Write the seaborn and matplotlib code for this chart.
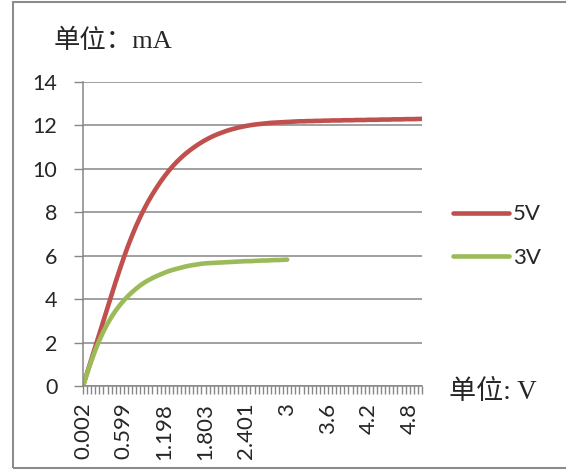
import numpy as np
import pandas as pd
import matplotlib
matplotlib.use('Agg')
import matplotlib.pyplot as plt
from matplotlib.patches import Rectangle
import seaborn as sns

# voltage categories (V), one per measurement step
volts = [
    '0.002', '0.062', '0.121', '0.181', '0.241', '0.301', '0.36', '0.42', '0.48', '0.539',
    '0.599', '0.659', '0.719', '0.779', '0.839', '0.899', '0.958', '1.018', '1.078', '1.138',
    '1.198', '1.258', '1.319', '1.379', '1.44', '1.5', '1.561', '1.621', '1.682', '1.742',
    '1.803', '1.863', '1.923', '1.983', '2.043', '2.102', '2.162', '2.222', '2.282', '2.341',
    '2.401', '2.461', '2.521', '2.58', '2.64', '2.7', '2.76', '2.82', '2.88', '2.94',
    '3', '3.06', '3.12', '3.18', '3.24', '3.3', '3.36', '3.42', '3.48', '3.54',
    '3.6', '3.66', '3.72', '3.78', '3.84', '3.9', '3.96', '4.02', '4.08', '4.14',
    '4.2', '4.26', '4.32', '4.38', '4.44', '4.5', '4.56', '4.62', '4.68', '4.74',
    '4.8', '4.86', '4.92', '4.98',
]

# current (mA) for 5V supply
ma_5v = [
    0.0, 0.6, 1.2, 1.8, 2.4, 3.0, 3.6, 4.2, 4.8, 5.37,
    5.92, 6.44, 6.92, 7.37, 7.78, 8.16, 8.51, 8.83, 9.13, 9.41,
    9.67, 9.91, 10.13, 10.33, 10.51, 10.68, 10.83, 10.97, 11.1, 11.22,
    11.33, 11.43, 11.52, 11.6, 11.67, 11.74, 11.8, 11.85, 11.9, 11.94,
    11.98, 12.01, 12.04, 12.06, 12.08, 12.1, 12.12, 12.13, 12.14, 12.15,
    12.16, 12.17, 12.18, 12.19, 12.19, 12.2, 12.2, 12.21, 12.21, 12.22,
    12.22, 12.23, 12.23, 12.23, 12.24, 12.24, 12.24, 12.25, 12.25, 12.25,
    12.26, 12.26, 12.26, 12.27, 12.27, 12.27, 12.28, 12.28, 12.28, 12.29,
    12.29, 12.29, 12.3, 12.3,
]

# current (mA) for 3V supply, measured up to 3V
ma_3v = [
    0.0, 0.58, 1.13, 1.64, 2.1, 2.51, 2.87, 3.19, 3.47, 3.72,
    3.94, 4.14, 4.32, 4.48, 4.63, 4.76, 4.87, 4.97, 5.06, 5.14,
    5.22, 5.29, 5.35, 5.4, 5.45, 5.5, 5.54, 5.57, 5.6, 5.63,
    5.65, 5.66, 5.67, 5.68, 5.69, 5.7, 5.71, 5.72, 5.73, 5.74,
    5.75, 5.75, 5.76, 5.77, 5.78, 5.78, 5.79, 5.8, 5.8, 5.81,
    5.82,
]

y_ticks = [0, 2, 4, 6, 8, 10, 12, 14]

red = '#C0504D'
green = '#9BBB59'
gray = '#868686'

df = pd.concat([
    pd.DataFrame({'V': volts, 'mA': ma_5v, 'series': '5V'}),
    pd.DataFrame({'V': volts[:len(ma_3v)], 'mA': ma_3v, 'series': '3V'}),
], ignore_index=True)

sns.set_theme(style='white')
plt.rcParams['font.family'] = ['Lato', 'DejaVu Sans']

fig = plt.figure(figsize=(5.66, 4.70), dpi=100)
ax = fig.add_axes([83 / 566, 84 / 470, 339 / 566, 304 / 470])

sns.lineplot(data=df, x='V', y='mA', hue='series',
             palette={'5V': red, '3V': green}, linewidth=3.3,
             sort=False, ax=ax, solid_capstyle='round')

n = len(volts)
ax.set_xlim(0, n - 1)
ax.set_ylim(0, 14)
ax.set_yticks(y_ticks)
ax.set_yticklabels([str(t) for t in y_ticks], fontsize=15.5)
major = list(range(0, n, 10))
ax.set_xticks(major)
ax.set_xticklabels([volts[i] for i in major], rotation=90, fontsize=16)
ax.set_xticks(range(n), minor=True)
ax.set_xlabel('')
ax.set_ylabel('')

ax.yaxis.grid(True, color=gray, lw=1.1)
ax.xaxis.grid(False)
ax.set_axisbelow(True)
for side in ['top', 'right']:
    ax.spines[side].set_visible(False)
for side in ['left', 'bottom']:
    ax.spines[side].set_color(gray)
    ax.spines[side].set_linewidth(1.1)

ax.tick_params(axis='x', which='both', bottom=True, length=6, width=1,
               color=gray, direction='out', pad=6)
ax.tick_params(axis='y', left=True, length=6.5, width=1, color=gray,
               direction='out', pad=12)

handles, labels = ax.get_legend_handles_labels()
leg = ax.legend(handles, labels, loc='center left',
                bbox_to_anchor=(453 / 566, 1 - 236 / 470),
                bbox_transform=fig.transFigure, frameon=False,
                borderpad=0, borderaxespad=0, handlelength=2.5,
                handletextpad=0.2, labelspacing=1.05, fontsize=16)
for h in leg.legend_handles:
    h.set_linewidth(3.3)
    h.set_solid_capstyle('round')

cjk = ['Liberation Serif', 'Noto Sans CJK SC']
fig.text(54 / 566, 1 - 41 / 470, '单位：mA', family=cjk, fontsize=19,
         ha='left', va='center')
fig.text(449 / 566, 1 - 392 / 470, '单位: V', family=cjk, fontsize=19.5,
         ha='left', va='center')

# outer chart border
fig.add_artist(Rectangle((13 / 566, 2 / 470), 1.0, 466 / 470,
                         transform=fig.transFigure, fill=False,
                         edgecolor='#8c8c8c', lw=1.5))

fig.savefig('out.png', dpi=100)
